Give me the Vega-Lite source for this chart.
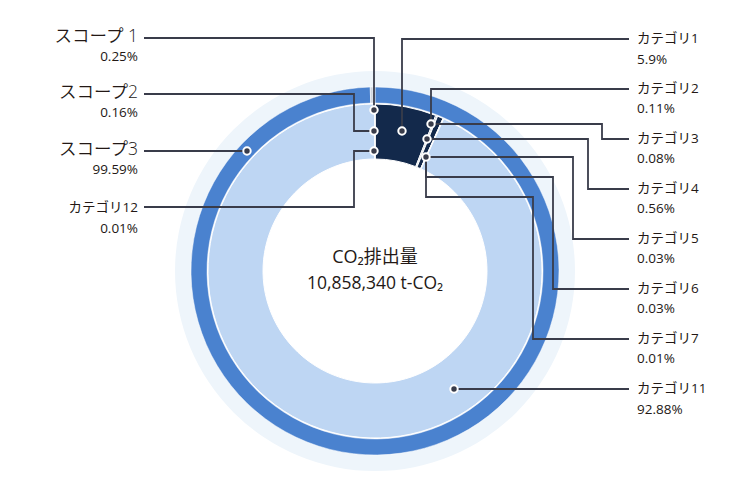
{
  "$schema": "https://vega.github.io/schema/vega-lite/v6.json",
  "width": 750,
  "height": 500,
  "autosize": {"type": "none"},
  "padding": 0,
  "background": "white",
  "config": {"view": {"stroke": null}, "font": "Open Sans, Noto Sans CJK JP"},
  "datasets": {
    "scopes": [
      {"idx": 1, "scope": "スコープ3", "pct": 99.59},
      {"idx": 2, "scope": "スコープ1", "pct": 0.25},
      {"idx": 3, "scope": "スコープ2", "pct": 0.16}
    ],
    "categories": [
      {"idx": 1, "category": "カテゴリ1", "pct": 5.9},
      {"idx": 2, "category": "カテゴリ2", "pct": 0.11},
      {"idx": 3, "category": "カテゴリ3", "pct": 0.08},
      {"idx": 4, "category": "カテゴリ4", "pct": 0.56},
      {"idx": 5, "category": "カテゴリ5", "pct": 0.03},
      {"idx": 6, "category": "カテゴリ6", "pct": 0.03},
      {"idx": 7, "category": "カテゴリ7", "pct": 0.01},
      {"idx": 8, "category": "カテゴリ11", "pct": 92.88},
      {"idx": 9, "category": "カテゴリ12", "pct": 0.01}
    ],
    "leaders": [
      {"id": "s1", "seq": 0, "x": 144, "y": 38}, {"id": "s1", "seq": 1, "x": 374, "y": 38}, {"id": "s1", "seq": 2, "x": 374, "y": 110},
      {"id": "s2", "seq": 0, "x": 144, "y": 94}, {"id": "s2", "seq": 1, "x": 354, "y": 94}, {"id": "s2", "seq": 2, "x": 354, "y": 131}, {"id": "s2", "seq": 3, "x": 374, "y": 131},
      {"id": "s3", "seq": 0, "x": 144, "y": 151}, {"id": "s3", "seq": 1, "x": 247, "y": 151},
      {"id": "c12", "seq": 0, "x": 144, "y": 207}, {"id": "c12", "seq": 1, "x": 354, "y": 207}, {"id": "c12", "seq": 2, "x": 354, "y": 151}, {"id": "c12", "seq": 3, "x": 374, "y": 151},
      {"id": "c1", "seq": 0, "x": 629, "y": 39}, {"id": "c1", "seq": 1, "x": 402, "y": 39}, {"id": "c1", "seq": 2, "x": 402, "y": 131},
      {"id": "c2", "seq": 0, "x": 629, "y": 89}, {"id": "c2", "seq": 1, "x": 431, "y": 89}, {"id": "c2", "seq": 2, "x": 431, "y": 124},
      {"id": "c3", "seq": 0, "x": 431, "y": 124}, {"id": "c3", "seq": 1, "x": 602, "y": 124}, {"id": "c3", "seq": 2, "x": 602, "y": 139}, {"id": "c3", "seq": 3, "x": 629, "y": 139},
      {"id": "c4", "seq": 0, "x": 427, "y": 139}, {"id": "c4", "seq": 1, "x": 588, "y": 139}, {"id": "c4", "seq": 2, "x": 588, "y": 189}, {"id": "c4", "seq": 3, "x": 629, "y": 189},
      {"id": "c5", "seq": 0, "x": 426, "y": 157}, {"id": "c5", "seq": 1, "x": 573, "y": 157}, {"id": "c5", "seq": 2, "x": 573, "y": 239}, {"id": "c5", "seq": 3, "x": 629, "y": 239},
      {"id": "c6", "seq": 0, "x": 426, "y": 157}, {"id": "c6", "seq": 1, "x": 426, "y": 177}, {"id": "c6", "seq": 2, "x": 553, "y": 177}, {"id": "c6", "seq": 3, "x": 553, "y": 289}, {"id": "c6", "seq": 4, "x": 629, "y": 289},
      {"id": "c7", "seq": 0, "x": 426, "y": 157}, {"id": "c7", "seq": 1, "x": 426, "y": 197}, {"id": "c7", "seq": 2, "x": 533, "y": 197}, {"id": "c7", "seq": 3, "x": 533, "y": 339}, {"id": "c7", "seq": 4, "x": 629, "y": 339},
      {"id": "c11", "seq": 0, "x": 454, "y": 389}, {"id": "c11", "seq": 1, "x": 629, "y": 389}
    ],
    "dots": [
      {"id": "s1", "x": 374, "y": 110},
      {"id": "s2", "x": 374, "y": 131},
      {"id": "s3", "x": 247, "y": 151},
      {"id": "c12", "x": 374, "y": 151},
      {"id": "c1", "x": 402, "y": 131},
      {"id": "c2", "x": 431, "y": 124},
      {"id": "c4", "x": 427, "y": 139},
      {"id": "c5", "x": 426, "y": 157},
      {"id": "c11", "x": 454, "y": 389}
    ],
    "texts": [
      {"role": "scopeName", "text": "スコープ 1", "x": 138, "y": 37},
      {"role": "scopeName", "text": "スコープ2", "x": 138, "y": 93},
      {"role": "scopeName", "text": "スコープ3", "x": 138, "y": 150},
      {"role": "left", "text": "0.25%", "x": 138, "y": 57},
      {"role": "left", "text": "0.16%", "x": 138, "y": 113},
      {"role": "left", "text": "99.59%", "x": 138, "y": 170},
      {"role": "left", "text": "カテゴリ12", "x": 138, "y": 208},
      {"role": "left", "text": "0.01%", "x": 138, "y": 229},
      {"role": "right", "text": "カテゴリ1", "x": 637, "y": 39},
      {"role": "right", "text": "5.9%", "x": 637, "y": 60},
      {"role": "right", "text": "カテゴリ2", "x": 637, "y": 89},
      {"role": "right", "text": "0.11%", "x": 637, "y": 109},
      {"role": "right", "text": "カテゴリ3", "x": 637, "y": 139},
      {"role": "right", "text": "0.08%", "x": 637, "y": 159},
      {"role": "right", "text": "カテゴリ4", "x": 637, "y": 189},
      {"role": "right", "text": "0.56%", "x": 637, "y": 209},
      {"role": "right", "text": "カテゴリ5", "x": 637, "y": 239},
      {"role": "right", "text": "0.03%", "x": 637, "y": 259},
      {"role": "right", "text": "カテゴリ6", "x": 637, "y": 289},
      {"role": "right", "text": "0.03%", "x": 637, "y": 309},
      {"role": "right", "text": "カテゴリ7", "x": 637, "y": 339},
      {"role": "right", "text": "0.01%", "x": 637, "y": 359},
      {"role": "right", "text": "カテゴリ11", "x": 637, "y": 389},
      {"role": "right", "text": "92.88%", "x": 637, "y": 410},
      {"role": "centerTitle", "text": "CO₂排出量", "x": 375, "y": 258},
      {"role": "centerValue", "text": "10,858,340 t-CO₂", "x": 375, "y": 284}
    ]
  },
  "layer": [
    {
      "data": {"values": [{"ring": "halo"}]},
      "mark": {"type": "arc", "radius": 200, "radius2": 183, "theta": 0, "theta2": 6.2832, "color": "#eef5fb"},
      "encoding": {
        "x": {"datum": 375, "type": "quantitative", "scale": {"domain": [0, 750]}, "axis": null},
        "y": {"datum": 271, "type": "quantitative", "scale": {"domain": [0, 500], "reverse": true}, "axis": null}
      }
    },
    {
      "data": {"name": "scopes"},
      "mark": {"type": "arc", "radius": 184, "radius2": 168, "stroke": "white", "strokeWidth": 0.5},
      "encoding": {
        "theta": {"field": "pct", "type": "quantitative", "stack": true},
        "order": {"field": "idx", "type": "quantitative"},
        "color": {"field": "scope", "type": "nominal", "legend": null,
          "scale": {"domain": ["スコープ3", "スコープ1", "スコープ2"], "range": ["#4a82cf", "#cfd5de", "#cfd5de"]}},
        "x": {"datum": 375, "type": "quantitative", "scale": {"domain": [0, 750]}, "axis": null},
        "y": {"datum": 271, "type": "quantitative", "scale": {"domain": [0, 500], "reverse": true}, "axis": null}
      }
    },
    {
      "data": {"name": "categories"},
      "mark": {"type": "arc", "radius": 167, "radius2": 112, "stroke": "white", "strokeWidth": 1},
      "encoding": {
        "theta": {"field": "pct", "type": "quantitative", "stack": true},
        "order": {"field": "idx", "type": "quantitative"},
        "color": {"field": "category", "type": "nominal", "legend": null,
          "scale": {"domain": ["カテゴリ1", "カテゴリ2", "カテゴリ3", "カテゴリ4", "カテゴリ5", "カテゴリ6", "カテゴリ7", "カテゴリ11", "カテゴリ12"],
                    "range": ["#13294b", "#13294b", "#13294b", "#13294b", "#13294b", "#13294b", "#13294b", "#bed6f3", "#cfd5de"]}},
        "x": {"datum": 375, "type": "quantitative", "scale": {"domain": [0, 750]}, "axis": null},
        "y": {"datum": 271, "type": "quantitative", "scale": {"domain": [0, 500], "reverse": true}, "axis": null}
      }
    },
    {
      "data": {"name": "leaders"},
      "mark": {"type": "line", "color": "#393c4a", "strokeWidth": 1.8, "interpolate": "linear"},
      "encoding": {
        "x": {"field": "x", "type": "quantitative", "scale": {"domain": [0, 750]}, "axis": null},
        "y": {"field": "y", "type": "quantitative", "scale": {"domain": [0, 500], "reverse": true}, "axis": null},
        "detail": {"field": "id", "type": "nominal"},
        "order": {"field": "seq", "type": "quantitative"}
      }
    },
    {
      "data": {"name": "dots"},
      "mark": {"type": "point", "filled": true, "fill": "#393c4a", "stroke": "white", "strokeWidth": 2, "size": 55, "opacity": 1},
      "encoding": {
        "x": {"field": "x", "type": "quantitative", "scale": {"domain": [0, 750]}, "axis": null},
        "y": {"field": "y", "type": "quantitative", "scale": {"domain": [0, 500], "reverse": true}, "axis": null}
      }
    },
    {
      "data": {"name": "texts"},
      "transform": [{"filter": "datum.role === 'scopeName'"}],
      "mark": {"type": "text", "align": "right", "baseline": "middle", "fontSize": 17.5, "fontWeight": 350, "color": "#231815"},
      "encoding": {
        "text": {"field": "text"},
        "x": {"field": "x", "type": "quantitative", "scale": {"domain": [0, 750]}, "axis": null},
        "y": {"field": "y", "type": "quantitative", "scale": {"domain": [0, 500], "reverse": true}, "axis": null}
      }
    },
    {
      "data": {"name": "texts"},
      "transform": [{"filter": "datum.role === 'left'"}],
      "mark": {"type": "text", "align": "right", "baseline": "middle", "fontSize": 13.5, "color": "#231815"},
      "encoding": {
        "text": {"field": "text"},
        "x": {"field": "x", "type": "quantitative", "scale": {"domain": [0, 750]}, "axis": null},
        "y": {"field": "y", "type": "quantitative", "scale": {"domain": [0, 500], "reverse": true}, "axis": null}
      }
    },
    {
      "data": {"name": "texts"},
      "transform": [{"filter": "datum.role === 'right'"}],
      "mark": {"type": "text", "align": "left", "baseline": "middle", "fontSize": 13.5, "color": "#231815"},
      "encoding": {
        "text": {"field": "text"},
        "x": {"field": "x", "type": "quantitative", "scale": {"domain": [0, 750]}, "axis": null},
        "y": {"field": "y", "type": "quantitative", "scale": {"domain": [0, 500], "reverse": true}, "axis": null}
      }
    },
    {
      "data": {"name": "texts"},
      "transform": [{"filter": "datum.role === 'centerTitle'"}],
      "mark": {"type": "text", "align": "center", "baseline": "middle", "fontSize": 18, "color": "#231815"},
      "encoding": {
        "text": {"field": "text"},
        "x": {"field": "x", "type": "quantitative", "scale": {"domain": [0, 750]}, "axis": null},
        "y": {"field": "y", "type": "quantitative", "scale": {"domain": [0, 500], "reverse": true}, "axis": null}
      }
    },
    {
      "data": {"name": "texts"},
      "transform": [{"filter": "datum.role === 'centerValue'"}],
      "mark": {"type": "text", "align": "center", "baseline": "middle", "fontSize": 17.5, "color": "#231815"},
      "encoding": {
        "text": {"field": "text"},
        "x": {"field": "x", "type": "quantitative", "scale": {"domain": [0, 750]}, "axis": null},
        "y": {"field": "y", "type": "quantitative", "scale": {"domain": [0, 500], "reverse": true}, "axis": null}
      }
    }
  ],
  "resolve": {"scale": {"theta": "independent", "color": "independent"}}
}
